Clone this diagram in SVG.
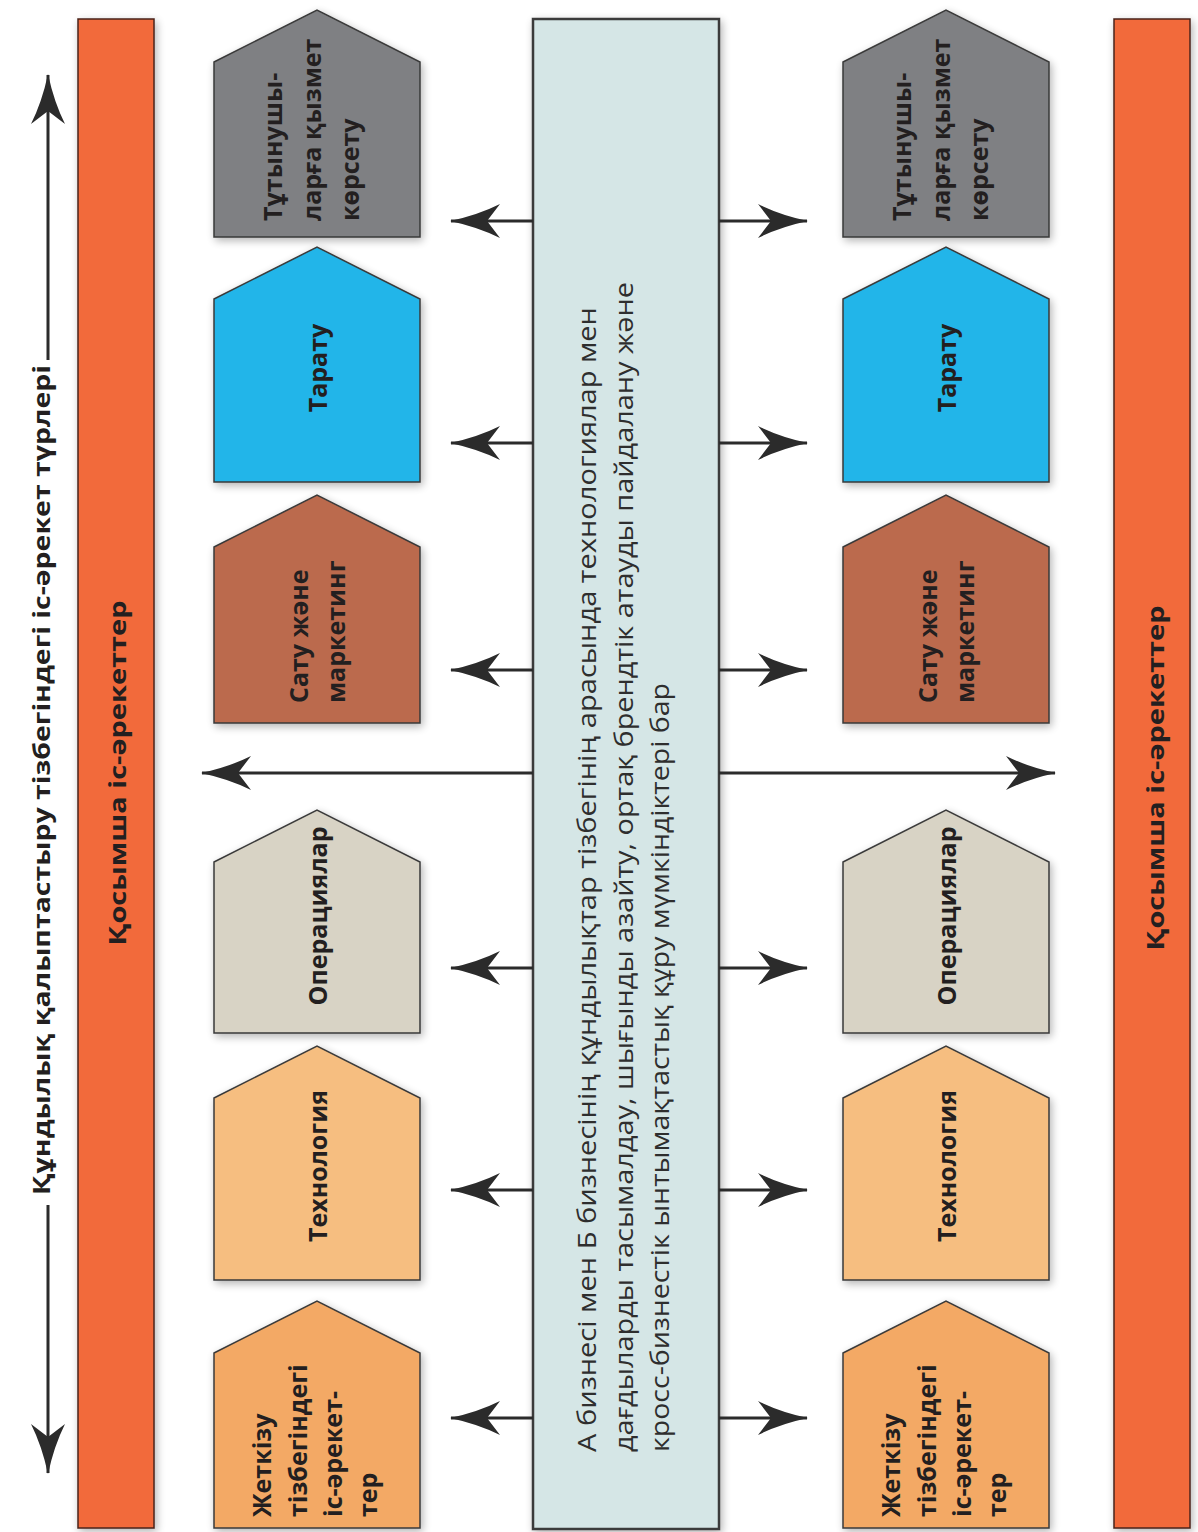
<svg xmlns="http://www.w3.org/2000/svg" width="1198" height="1532" viewBox="0 0 1198 1532">
  <defs>
    <!-- soft drop shadow used by the boxes -->
    <filter id="shadow" x="-15%" y="-15%" width="135%" height="135%">
      <feGaussianBlur in="SourceAlpha" stdDeviation="4" result="blur"/>
      <feOffset in="blur" dx="2" dy="3" result="off"/>
      <feComponentTransfer in="off" result="soft">
        <feFuncA type="linear" slope="0.3"/>
      </feComponentTransfer>
      <feMerge>
        <feMergeNode in="soft"/>
        <feMergeNode in="SourceGraphic"/>
      </feMerge>
    </filter>
    <!-- barbed arrowhead -->
    <marker id="head" markerUnits="userSpaceOnUse" markerWidth="50" markerHeight="34" viewBox="0 0 50 34" refX="49" refY="17" orient="auto">
      <path d="M0,0 Q22,11 50,17 Q22,23 0,34 L13,17 Z" fill="#2b2b2b"/>
    </marker>
  </defs>
  <style>
    .bar { fill: #f26b3b; stroke: #4a2418; stroke-width: 1.5; filter: url(#shadow); }
    .node { stroke: #3a3a3a; stroke-width: 1.5; filter: url(#shadow); }
    .center { fill: #d5e6e6; stroke: #3a3a3a; stroke-width: 2.5; filter: url(#shadow); }
    .lbl { font-family: "Open Sans", "Noto Sans", "DejaVu Sans", sans-serif; font-weight: bold; font-size: 25px; fill: #231f20; }
    .side { font-family: "Open Sans", "Noto Sans", "DejaVu Sans", sans-serif; font-weight: bold; font-size: 24px; fill: #231f20; }
    .big { font-family: "Open Sans", "Noto Sans", "DejaVu Sans", sans-serif; font-weight: bold; font-size: 24px; fill: #231f20; }
    .body { font-family: "Open Sans", "Noto Sans", "DejaVu Sans", sans-serif; font-size: 25px; fill: #2e2e2e; }
    .conn { stroke: #2b2b2b; stroke-width: 3; fill: none; marker-end: url(#head); }
    .c-service { fill: #7f8083; }
    .c-distrib { fill: #22b5e9; }
    .c-sales { fill: #bb6a4e; }
    .c-ops { fill: #d8d3c5; }
    .c-tech { fill: #f6be80; }
    .c-supply { fill: #f3a965; }
  </style>

  <rect width="1198" height="1532" fill="#ffffff"/>

  <!-- side bars -->
  <g id="bar-left">
    <rect class="bar" x="78" y="19" width="76" height="1509"/>
    <text class="side" text-anchor="middle" transform="translate(126,773) rotate(-90)" textLength="345" lengthAdjust="spacingAndGlyphs">Қосымша іс-әрекеттер</text>
  </g>
  <g id="bar-right">
    <rect class="bar" x="1114" y="19" width="76" height="1509"/>
    <text class="side" text-anchor="middle" transform="translate(1164,778) rotate(-90)" textLength="345" lengthAdjust="spacingAndGlyphs">Қосымша іс-әрекеттер</text>
  </g>

  <!-- axis label -->
  <g id="axis-label">
    <text class="big" text-anchor="middle" transform="translate(50,780) rotate(-90)" textLength="830" lengthAdjust="spacingAndGlyphs">Құндылық қалыптастыру тізбегіндегі іс-әрекет түрлері</text>
  </g>

  <!-- central box -->
  <g id="shared">
    <rect class="center" x="533" y="19" width="186" height="1510"/>
    <text class="body" transform="translate(596,1452) rotate(-90)" textLength="1145" lengthAdjust="spacingAndGlyphs">А бизнесі мен Б бизнесінің құндылықтар тізбегінің арасында технологиялар мен</text>
    <text class="body" transform="translate(633,1452) rotate(-90)" textLength="1170" lengthAdjust="spacingAndGlyphs">дағдыларды тасымалдау, шығынды азайту, ортақ брендтік атауды пайдалану және</text>
    <text class="body" transform="translate(669,1452) rotate(-90)" textLength="769" lengthAdjust="spacingAndGlyphs">кросс-бизнестік ынтымақтастық құру мүмкіндіктері бар</text>
  </g>

  <!-- left column: business A -->
  <g id="a-service">
    <polygon class="node c-service" points="214,62 317,10 420,62 420,237 214,237"/>
    <text class="lbl" transform="translate(282,221) rotate(-90)">Тұтынушы-</text>
    <text class="lbl" transform="translate(321,221) rotate(-90)">ларға қызмет</text>
    <text class="lbl" transform="translate(359,221) rotate(-90)">көрсету</text>
  </g>
  <g id="a-distrib">
    <polygon class="node c-distrib" points="214,299 317,247 420,299 420,482 214,482"/>
    <text class="lbl" text-anchor="middle" transform="translate(327,368) rotate(-90)">Тарату</text>
  </g>
  <g id="a-sales">
    <polygon class="node c-sales" points="214,547 317,495 420,547 420,723 214,723"/>
    <text class="lbl" transform="translate(308,703) rotate(-90)">Сату және</text>
    <text class="lbl" transform="translate(345,703) rotate(-90)">маркетинг</text>
  </g>
  <g id="a-ops">
    <polygon class="node c-ops" points="214,862 317,810 420,862 420,1033 214,1033"/>
    <text class="lbl" text-anchor="middle" transform="translate(327,916) rotate(-90)">Операциялар</text>
  </g>
  <g id="a-tech">
    <polygon class="node c-tech" points="214,1098 317,1046 420,1098 420,1280 214,1280"/>
    <text class="lbl" text-anchor="middle" transform="translate(327,1166) rotate(-90)">Технология</text>
  </g>
  <g id="a-supply">
    <polygon class="node c-supply" points="214,1353 317,1301 420,1353 420,1528 214,1528"/>
    <text class="lbl" transform="translate(271,1517) rotate(-90)">Жеткізу</text>
    <text class="lbl" transform="translate(307,1517) rotate(-90)">тізбегіндегі</text>
    <text class="lbl" transform="translate(342,1517) rotate(-90)">іс-әрекет-</text>
    <text class="lbl" transform="translate(377,1517) rotate(-90)">тер</text>
  </g>

  <!-- right column: business B -->
  <g id="b-service">
    <polygon class="node c-service" points="843,62 946,10 1049,62 1049,237 843,237"/>
    <text class="lbl" transform="translate(911,221) rotate(-90)">Тұтынушы-</text>
    <text class="lbl" transform="translate(950,221) rotate(-90)">ларға қызмет</text>
    <text class="lbl" transform="translate(988,221) rotate(-90)">көрсету</text>
  </g>
  <g id="b-distrib">
    <polygon class="node c-distrib" points="843,299 946,247 1049,299 1049,482 843,482"/>
    <text class="lbl" text-anchor="middle" transform="translate(956,368) rotate(-90)">Тарату</text>
  </g>
  <g id="b-sales">
    <polygon class="node c-sales" points="843,547 946,495 1049,547 1049,723 843,723"/>
    <text class="lbl" transform="translate(937,703) rotate(-90)">Сату және</text>
    <text class="lbl" transform="translate(974,703) rotate(-90)">маркетинг</text>
  </g>
  <g id="b-ops">
    <polygon class="node c-ops" points="843,862 946,810 1049,862 1049,1033 843,1033"/>
    <text class="lbl" text-anchor="middle" transform="translate(956,916) rotate(-90)">Операциялар</text>
  </g>
  <g id="b-tech">
    <polygon class="node c-tech" points="843,1098 946,1046 1049,1098 1049,1280 843,1280"/>
    <text class="lbl" text-anchor="middle" transform="translate(956,1166) rotate(-90)">Технология</text>
  </g>
  <g id="b-supply">
    <polygon class="node c-supply" points="843,1353 946,1301 1049,1353 1049,1528 843,1528"/>
    <text class="lbl" transform="translate(900,1517) rotate(-90)">Жеткізу</text>
    <text class="lbl" transform="translate(936,1517) rotate(-90)">тізбегіндегі</text>
    <text class="lbl" transform="translate(971,1517) rotate(-90)">іс-әрекет-</text>
    <text class="lbl" transform="translate(1006,1517) rotate(-90)">тер</text>
  </g>

  <!-- connectors -->
  <g id="connectors">
    <line class="conn" x1="48" y1="360" x2="48" y2="75"/>
    <line class="conn" x1="48" y1="1205" x2="48" y2="1473"/>

    <line class="conn" x1="533" y1="773" x2="202" y2="773"/>
    <line class="conn" x1="719" y1="773" x2="1055" y2="773"/>

    <line class="conn" x1="533" y1="221" x2="451" y2="221"/>
    <line class="conn" x1="719" y1="221" x2="807" y2="221"/>
    <line class="conn" x1="533" y1="443" x2="451" y2="443"/>
    <line class="conn" x1="719" y1="443" x2="807" y2="443"/>
    <line class="conn" x1="533" y1="670" x2="451" y2="670"/>
    <line class="conn" x1="719" y1="670" x2="807" y2="670"/>
    <line class="conn" x1="533" y1="968" x2="451" y2="968"/>
    <line class="conn" x1="719" y1="968" x2="807" y2="968"/>
    <line class="conn" x1="533" y1="1190" x2="451" y2="1190"/>
    <line class="conn" x1="719" y1="1190" x2="807" y2="1190"/>
    <line class="conn" x1="533" y1="1418" x2="451" y2="1418"/>
    <line class="conn" x1="719" y1="1418" x2="807" y2="1418"/>
  </g>
</svg>
